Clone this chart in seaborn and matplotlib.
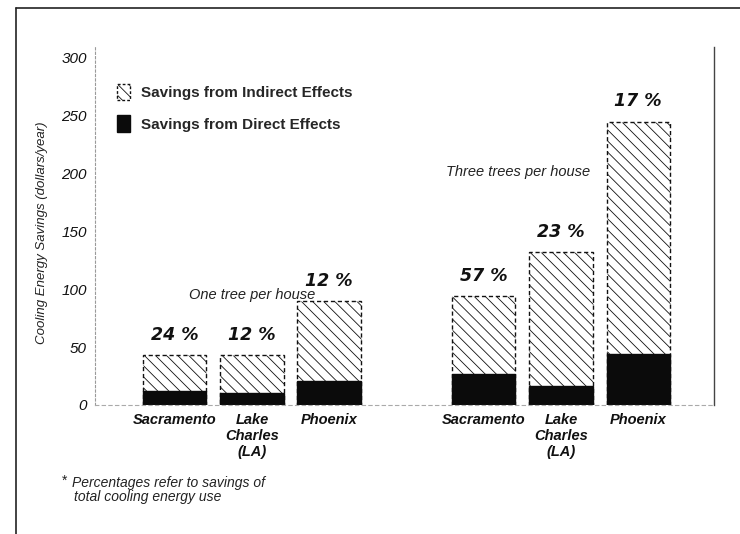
import matplotlib
matplotlib.use("Agg")
import matplotlib.pyplot as plt
from matplotlib.patches import Patch
from matplotlib.lines import Line2D
import pandas as pd
import seaborn as sns

# data (dollars / year)
cities = ["Sacramento", "Lake\nCharles\n(LA)", "Phoenix"]
one_tree_direct = [12, 10, 21]
one_tree_total = [43, 43, 90]
three_trees_direct = [27, 16, 44]
three_trees_total = [94, 132, 245]
one_tree_pct = ["24 %", "12 %", "12 %"]
three_trees_pct = ["57 %", "23 %", "17 %"]
y_ticks = [0, 50, 100, 150, 200, 250, 300]

keys_one = ["one-" + c for c in cities]
keys_three = ["three-" + c for c in cities]
order = keys_one + ["gap"] + keys_three

df = pd.DataFrame({
    "key": keys_one + keys_three,
    "direct": one_tree_direct + three_trees_direct,
    "total": one_tree_total + three_trees_total,
    "pct": one_tree_pct + three_trees_pct,
})

sns.set_theme(style="white")
FONT = ["Liberation Sans", "DejaVu Sans"]
plt.rcParams["font.family"] = FONT
plt.rcParams["hatch.linewidth"] = 0.6
plt.rcParams["hatch.color"] = "#333333"

fig = plt.figure(figsize=(7.4, 5.34), dpi=100)
ax = fig.add_axes([0.1284, 0.2416, 0.8365, 0.6704])

# hatched (indirect) part drawn as full height, black (direct) on top of it
sns.barplot(data=df, x="key", y="total", order=order, color="white",
            saturation=1, width=0.82, edgecolor="#111111", linewidth=1.0,
            linestyle=(0, (3, 2)), hatch="\\\\\\", ax=ax)
sns.barplot(data=df, x="key", y="direct", order=order, color="#0b0b0b",
            saturation=1, width=0.82, edgecolor="#0b0b0b", linewidth=1.0,
            ax=ax)

ax.set_xlim(-1.03, 6.98)
ax.set_ylim(0, 309.5)
ax.set_yticks(y_ticks)
ax.set_yticklabels([str(v) for v in y_ticks], fontsize=11, style="italic",
                   color="#111111")
ax.set_xticks(range(len(order)))
ax.set_xticklabels(cities + [""] + cities, fontsize=10.5, style="italic",
                   fontweight="bold", color="#111111", linespacing=1.15)
ax.tick_params(axis="x", length=0, pad=6)
ax.tick_params(axis="y", length=0, pad=6)
ax.set_xlabel("")
ax.set_ylabel("Cooling Energy Savings (dollars/year)", fontsize=9.5,
              style="italic", color="#222222")
ax.yaxis.set_label_coords(-0.076, 0.48)

ax.spines["top"].set_visible(False)
ax.spines["left"].set_color("#9a9a9a")
ax.spines["left"].set_linestyle((0, (2, 2)))
ax.spines["left"].set_linewidth(0.8)
ax.spines["bottom"].set_color("#aaaaaa")
ax.spines["bottom"].set_linestyle((0, (3, 3)))
ax.spines["bottom"].set_linewidth(0.8)
ax.spines["right"].set_color("#444444")
ax.spines["right"].set_linewidth(1.0)

# percentage labels above each bar
for i, k in enumerate(order):
    row = df[df["key"] == k]
    if row.empty:
        continue
    ax.annotate(row["pct"].iloc[0], (i, row["total"].iloc[0]),
                xytext=(0, 8), textcoords="offset points", ha="center",
                va="bottom", fontsize=12.5, fontweight="bold", style="italic",
                family=["DejaVu Sans"], color="#111111")

ax.text(1, 95, "One tree per house", ha="center", va="center", fontsize=10.5,
        style="italic", color="#222222")
ax.text(4.45, 201, "Three trees per house", ha="center", va="center",
        fontsize=10.5, style="italic", color="#222222")

handles = [
    Patch(facecolor="white", edgecolor="#111111", hatch="\\\\\\",
          linestyle=(0, (2, 1.5)), linewidth=1.0,
          label="Savings from Indirect Effects"),
    Patch(facecolor="#0b0b0b", edgecolor="#0b0b0b",
          label="Savings from Direct Effects"),
]
leg = ax.legend(handles=handles, loc="upper left",
                bbox_to_anchor=(0.025, 0.915), frameon=False,
                handlelength=0.9, handleheight=1.3, handletextpad=0.7,
                labelspacing=1.0, borderaxespad=0,
                prop={"weight": "bold", "size": 11, "family": FONT})

# footnote
fig.text(0.083, 0.099, "*", fontsize=10, color="#222222", va="center")
fig.text(0.097, 0.095, "Percentages refer to savings of", fontsize=10,
         style="italic", color="#222222", va="center")
fig.text(0.100, 0.070, "total cooling energy use", fontsize=10,
         style="italic", color="#222222", va="center")

# outer frame lines of the scanned figure
fig.add_artist(Line2D([0.022, 1.0], [0.985, 0.985], color="#222222", lw=1.2))
fig.add_artist(Line2D([0.022, 0.022], [0.0, 0.985], color="#222222", lw=1.2))

fig.savefig("out.png", dpi=100, facecolor="white")
